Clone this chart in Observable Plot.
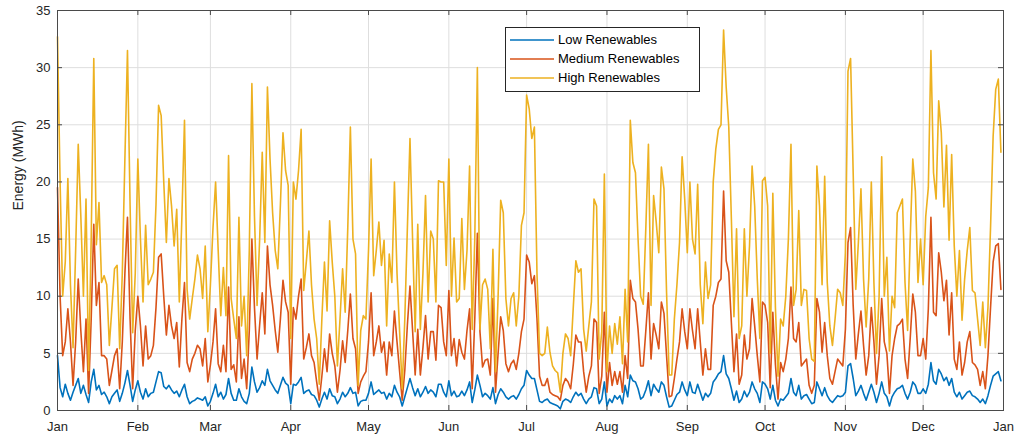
<!DOCTYPE html>
<html>
<head>
<meta charset="utf-8">
<script src="https://cdn.jsdelivr.net/npm/d3@7"></script>
<script src="https://cdn.jsdelivr.net/npm/@observablehq/plot@0.6"></script>
<style>
  body { margin: 0; background: #fff; }
  #chart { position: relative; width: 1016px; height: 439px; font-family: "Liberation Sans", Arial, sans-serif; }
  #legend { position: absolute; left: 505px; top: 27px; width: 195px; height: 65px; box-sizing: border-box;
            border: 1px solid #262626; background: #fff; }
  #legend .row { position: absolute; left: 0; height: 16px; width: 100%; }
  #legend .row svg { position: absolute; left: 3px; top: 0; }
  #legend .row span { position: absolute; left: 52px; top: 0; font-size: 13px; line-height: 16px; color: #000; white-space: nowrap; }
</style>
</head>
<body>
<div id="chart"></div>
<script>
// Daily energy (MWh) for one year, Jan 1 .. Dec 31
const lowRenewables = [
  4.8, 2, 1.2, 2.3, 1.5, 0.9, 1.6, 2.2, 2.8, 1.5, 2.2, 1.4, 0.7, 2.5, 3.6, 1.8, 2.2, 1.4, 1.6, 1.2, 0.6, 1.2, 1.5, 1.8, 0.8, 1.5, 2.4, 3.5, 2.2, 0.8, 1.8, 2.6,
  1.6, 1.0, 1.9, 1.2, 1.5, 1.6, 2.5, 3.4, 3.3, 2.1, 1.9, 2.2, 1.8, 1.5, 1.7, 1.2, 1.8, 2.3, 1.2, 0.6, 0.8, 0.9, 1.1, 1.0, 0.9, 1.2, 0.4,
  0.8, 1.5, 2.3, 1.2, 1.6, 1.0, 1.4, 2.8, 1.5, 0.9, 0.9, 1.9, 1.2, 0.8, 0.6, 1.5, 3.8, 2.5, 1.6, 2.0, 2.6, 2.2, 3.6, 2.6, 2.2, 1.8, 1.5, 2.2, 2.9, 2.4, 2.2, 0.6,
  2.3, 2.2, 2.5, 2.9, 1.5, 1.7, 1.8, 1.4, 1.3, 0.9, 0.3, 1.0, 1.6, 1.0, 1.9, 1.3, 1.2, 0.6, 1.0, 1.6, 1.2, 1.5, 2.0, 1.5, 1.6, 0.4, 0.8, 0.9, 0.9, 1.5, 2.5,
  1.4, 1.6, 1.8, 1.5, 1.6, 1.0, 1.5, 1.2, 2.2, 1.6, 1.2, 0.4, 1.2, 2.0, 2.8, 2.0, 1.3, 1.9, 1.2, 1.6, 2.1, 1.5, 1.8, 1.6, 1.2, 2.3, 2.3, 1.6, 1.2, 2.6, 1.3,
  1.7, 1.2, 1.3, 1.7, 1.3, 1.8, 2.5, 0.7, 1.8, 3.1, 2.2, 1.2, 1.5, 1.3, 1.0, 2.0, 0.6, 1.4, 1.9, 1.6, 1.2, 1.0, 1.2, 1.3, 1.0, 1.4, 1.9, 2.2, 3.5, 3.1,
  2.8, 2.8, 1.8, 0.8, 0.7, 0.9, 1.0, 0.7, 0.6, 0.5, 0.4, 0.15, 0.8, 1.0, 0.9, 0.7, 1.2, 1.6, 1.3, 1.5, 1.0, 0.6, 1.0, 1.2, 2.0, 1.9, 0.6, 1.0, 2.5, 0.4, 1.0,
  0.7, 1.3, 1.0, 1.3, 0.6, 2.2, 1.2, 3.1, 2.6, 2.5, 1.9, 1.0, 1.2, 1.8, 2.6, 1.3, 2.3, 1.9, 1.6, 2.5, 2.2, 1.2, 0.3, 0.4, 0.9, 1.4, 1.6, 2.5, 1.8, 1.3, 2.5,
  1.6, 1.5, 2.3, 1.6, 0.9, 1.5, 1.2, 1.5, 2.5, 2.8, 3.2, 3.4, 4.8, 3.2, 2.8, 1.9, 0.9, 1.7, 0.7, 1.0, 1.7, 1.2, 1.6, 2.5, 1.9, 1.5, 0.7, 2.5, 2.3, 1.9, 1.0,
  2.2, 0.9, 0.4, 1.0, 0.9, 1.2, 1.5, 2.8, 1.6, 1.3, 2.2, 1.0, 1.3, 1.4, 1.0, 0.6, 0.7, 2.5, 1.9, 1.3, 2.0, 1.3, 0.9, 0.7, 1.0, 1.3, 1.2, 1.3, 1.6, 3.9,
  4.1, 2.8, 1.3, 1.7, 2.2, 1.5, 0.9, 1.6, 2.3, 1.6, 0.7, 1.5, 2.5, 1.5, 1.2, 0.4, 1.2, 1.6, 1.9, 2.0, 2.2, 1.5, 1.0, 1.6, 2.5, 2.2,
  1.5, 1.5, 1.9, 1.5, 2.3, 4.2, 2.6, 2.3, 3.6, 3.2, 2.6, 2.9, 2.2, 2.8, 1.6, 1.2, 1.6, 1.0, 1.3, 1.6, 1.7, 1.3, 1.2, 1.0, 0.7, 1.0, 0.6, 1.3, 2.2, 3.0, 3.2, 3.4, 2.6
];

const mediumRenewables = [
  19.5, 10, 4.8, 6, 8.9, 6, 2.2, 6, 11.5, 7, 3.4, 8, 1.5, 8, 16.3, 9.2, 11.2, 4.8, 4.8, 4.5, 2.2, 3.5, 4.8, 5.4, 1.9, 6, 12, 16.9, 8, 1.9, 7, 10,
  7.4, 3.9, 7.4, 4.5, 4.8, 5.7, 9, 13.4, 13.7, 10, 6.6, 9.2, 7.4, 6.3, 7.7, 3.8, 8, 11.2, 4.2, 3.4, 4.5, 5, 5.7, 5.4, 3.9, 6.3, 2.5,
  4, 6, 8.9, 4.1, 3.4, 5.7, 3.4, 10.8, 3.6, 4, 2.5, 8.2, 2.8, 4.5, 1.9, 7, 15, 9, 4.5, 7.5, 10.3, 6.7, 14.4, 11, 9.2, 7, 5.1, 8, 11.4, 9.5, 8.6, 2.3,
  9, 8, 10, 11.5, 4.5, 5.5, 6.7, 4.8, 4.2, 2.5, 0.9, 3, 5.4, 3.4, 6.7, 5, 3.9, 1.6, 3.5, 6.1, 4.2, 7, 10.2, 6.3, 5.4, 1.5, 2.5, 3, 3.4, 6, 10.3,
  4.8, 6, 7.4, 5.1, 6, 3.1, 6, 4.8, 8.7, 6, 3.4, 0.9, 3.5, 7.5, 10.9, 7, 3.1, 7.1, 3.1, 5.5, 8.3, 4.5, 6.9, 6.9, 4.4, 9.2, 9, 6, 4.8, 10.5, 4.8,
  6.3, 3.9, 6.2, 5.1, 4.5, 7, 8.9, 1.9, 8, 15.5, 6.9, 3.8, 4.4, 4.5, 3.1, 9.8, 1.6, 5, 8.2, 7, 4.1, 3.4, 4.1, 4.4, 3.6, 5, 6.9, 8, 13.6, 13,
  11.1, 11.8, 8, 3, 2.2, 2.2, 2.8, 1.6, 1.4, 1.3, 1.2, 0.9, 2.2, 2.8, 2.5, 1.9, 4, 6.6, 6, 6, 3.4, 1.6, 3, 3.9, 8, 7.7, 1.5, 3, 8.6, 1.6, 4.2,
  2.2, 3.4, 2.3, 3.4, 1.6, 4.8, 2.8, 11.4, 9.8, 9.5, 7.1, 3.9, 3.9, 7, 10.3, 4.5, 7.6, 6.6, 5.4, 9.5, 8.5, 4.8, 1.2, 1.3, 2.8, 4.5, 6, 8.9, 6.9, 5.4, 8.9,
  7, 5.4, 8.9, 6, 3.1, 5.4, 3.6, 3.6, 9.2, 10, 11.2, 11.5, 19.2, 13.1, 12.1, 7.7, 3.4, 6.7, 2.3, 3.1, 6.6, 4.5, 5.4, 9.8, 7.4, 4.8, 2.5, 9.5, 9.2, 7.7, 2,
  8.6, 4, 1, 4.2, 3.4, 4.5, 6.3, 10.8, 6.3, 6, 7.7, 3.9, 4.2, 4.5, 2.2, 1.5, 2.2, 9.8, 8.6, 5.1, 7.7, 4.8, 2.8, 2.3, 3.4, 4.5, 4.2, 3.9, 7.1, 14.7,
  16, 9.2, 4.5, 6.7, 8.7, 5.7, 3.1, 4.8, 9, 6, 2.3, 4.8, 9.8, 6, 5, 1.5, 4.8, 6.3, 7.4, 7.6, 8, 4.5, 2.8, 6.3, 10.2, 8.6,
  4.8, 4.8, 6.3, 4.5, 8.9, 16.9, 8.6, 8.3, 13.8, 12.1, 9.6, 11.4, 6.6, 10.3, 4.5, 3.6, 6, 3.1, 4.2, 6, 6.9, 4.2, 4, 3.6, 2.2, 3.4, 1.9, 4.8, 9, 13, 14.4, 14.6, 10.6
];

const highRenewables = [
  32.7, 20, 10, 13, 20.3, 11, 5.5, 14, 23.3, 17, 10, 18.5, 3.5, 15, 30.8, 14.5, 18.2, 11.2, 11.8, 11, 5.7, 9, 12.4, 12.7, 5.4, 12, 22, 31.5, 18, 6.8, 12, 22,
  15, 9.5, 16.2, 11, 11.5, 12.1, 18, 26.7, 25.8, 20, 14.7, 20.3, 17.9, 14.4, 17.6, 9.5, 17, 25.4, 10.6, 8, 9.8, 11.5, 13.6, 12.4, 9.8, 14.4, 6.9,
  11, 16, 20, 14, 8.3, 12.5, 8.3, 22.3, 9.8, 8, 6.3, 16.9, 7.4, 10, 4.8, 14, 28.6, 17, 9.2, 15, 22.6, 14.7, 28.3, 22, 17.3, 14, 12.4, 18, 24.3, 21, 19.7, 6.3,
  20, 18.5, 21, 24.6, 10.5, 13, 15.7, 11, 8, 6.3, 2.3, 8, 13, 8.7, 16.6, 13, 10, 3.9, 8, 12.4, 8.6, 16, 24.8, 15, 13.7, 2.2, 7, 8.3, 8, 14, 22,
  11.8, 14, 16.5, 12.7, 14.9, 7.4, 13.7, 11.2, 20, 12, 6.9, 1.9, 8, 16, 23.8, 15, 6.9, 16.3, 7.1, 12, 18.8, 9.5, 15.7, 15, 9.5, 20.1, 20, 20, 12.7, 22, 10,
  15.1, 9.5, 9.8, 16.8, 10.6, 14, 21.4, 7.1, 15, 30, 7.1, 11, 11.5, 10.6, 5.4, 14.1, 3.4, 10, 18.4, 17.3, 9.8, 7.4, 9.8, 10.3, 7.4, 10, 16.2, 17.3, 27.6, 26.4,
  23.8, 24.8, 12, 5, 4.8, 5, 7.3, 5.1, 3.9, 3.5, 3.3, 1.6, 5, 6.7, 6.3, 4.8, 9, 13.1, 12.1, 12.4, 7.1, 5.2, 7.4, 9.5, 18.5, 17.9, 4.5, 6.9, 20.7, 3.4, 7.4,
  5, 7.6, 5.8, 8.2, 4.1, 10.6, 6, 25.4, 21.7, 20.8, 15, 10, 9.3, 16, 23.3, 9.2, 18.8, 16.5, 13.8, 21.3, 19.4, 10.3, 3.1, 3.1, 8, 11, 14.7, 22.2, 18.5, 13.8, 20,
  15, 13.7, 19.8, 11, 7.6, 13, 9.8, 11, 20, 22.9, 24.6, 25, 33.3, 28.3, 24.8, 16.8, 8.2, 15.9, 6.3, 7.4, 15.9, 10, 14.4, 21.4, 17.9, 11.5, 6.3, 20.1, 20.4, 17.9, 5,
  19, 9, 3, 8, 7.4, 10, 15, 23.3, 9.2, 10.6, 17.5, 9.2, 10.6, 10.5, 6.3, 4.5, 4.3, 21.4, 17.9, 11, 20.5, 11.2, 7.4, 5.7, 8, 10.6, 10.3, 9.2, 13.8, 29.7,
  30.8, 20.8, 10.6, 14.7, 19.4, 11.5, 7.3, 11.5, 20, 11.2, 5, 10, 22.2, 10, 13.4, 5.2, 10, 9, 17.3, 17.9, 18.5, 11.2, 7, 15, 22, 19.2,
  11.2, 15, 11, 17, 19.5, 31.5, 20.8, 18.5, 27.1, 24.3, 17.8, 23.2, 14.9, 22.4, 14.4, 10, 14, 7.9, 11.5, 14, 16, 10.5, 10.3, 8, 5.7, 9.5, 5.5, 9, 16, 24, 28.1, 29, 22.6
];

const seriesNames = ["Low Renewables", "Medium Renewables", "High Renewables"];
const seriesColors = ["#0072BD", "#D95319", "#EDB120"];
const yTicks = [0, 5, 10, 15, 20, 25, 30, 35];
const monthFormat = d3.utcFormat("%b");

const yearStart = new Date(Date.UTC(2021, 0, 1));
const yearEnd = new Date(Date.UTC(2022, 0, 1));
const days = d3.utcDays(yearStart, yearEnd);
const monthTicks = d3.utcMonths(yearStart, new Date(Date.UTC(2022, 0, 2)));

const rows = (values) => values.map((v, i) => ({date: days[i], value: v}));
const seriesData = [lowRenewables, mediumRenewables, highRenewables].map(rows);

const gridColor = "#dedede";
const axisColor = "#4a4a4a";

const chart = Plot.plot({
  width: 1016,
  height: 439,
  marginLeft: 57,
  marginRight: 13,
  marginTop: 10,
  marginBottom: 29,
  x: {type: "utc", domain: [yearStart, yearEnd]},
  y: {domain: [0, 35]},
  style: {fontFamily: "'Liberation Sans', Arial, sans-serif", fontSize: "13px", color: "#262626", background: "#fff"},
  marks: [
    Plot.gridX(monthTicks, {stroke: gridColor, strokeOpacity: 1}),
    Plot.gridY(yTicks, {stroke: gridColor, strokeOpacity: 1}),
    ...seriesData.map((data, i) =>
      Plot.line(data, {x: "date", y: "value", stroke: seriesColors[i], strokeWidth: 1.6})
    ),
    Plot.frame({stroke: axisColor}),
    // inward tick marks on all four sides
    Plot.tickX(monthTicks, {x: d => d, stroke: axisColor, insetTop: 395}),
    Plot.tickX(monthTicks, {x: d => d, stroke: axisColor, insetBottom: 395}),
    Plot.tickY(yTicks, {y: d => d, stroke: axisColor, insetRight: 941}),
    Plot.tickY(yTicks, {y: d => d, stroke: axisColor, insetLeft: 941}),
    Plot.axisX(monthTicks, {tickSize: 0, tickPadding: 11, tickFormat: monthFormat, label: null, fill: "#262626"}),
    Plot.axisY(yTicks, {tickSize: 0, tickPadding: 7, label: null, fill: "#262626"}),
    Plot.text(["Energy (MWh)"], {text: d => d, frameAnchor: "left", dx: -39, rotate: -90, fontSize: 14, fill: "#262626"})
  ]
});

const root = document.getElementById("chart");
root.appendChild(chart);

// legend box
const legend = document.createElement("div");
legend.id = "legend";
seriesNames.forEach((name, i) => {
  const row = document.createElement("div");
  row.className = "row";
  row.style.top = (4 + i * 19) + "px";
  row.innerHTML = `<svg width="46" height="16"><line x1="1" x2="45" y1="8" y2="8" stroke="${seriesColors[i]}" stroke-width="1.6"/></svg><span>${name}</span>`;
  legend.appendChild(row);
});
root.appendChild(legend);
</script>
</body>
</html>
